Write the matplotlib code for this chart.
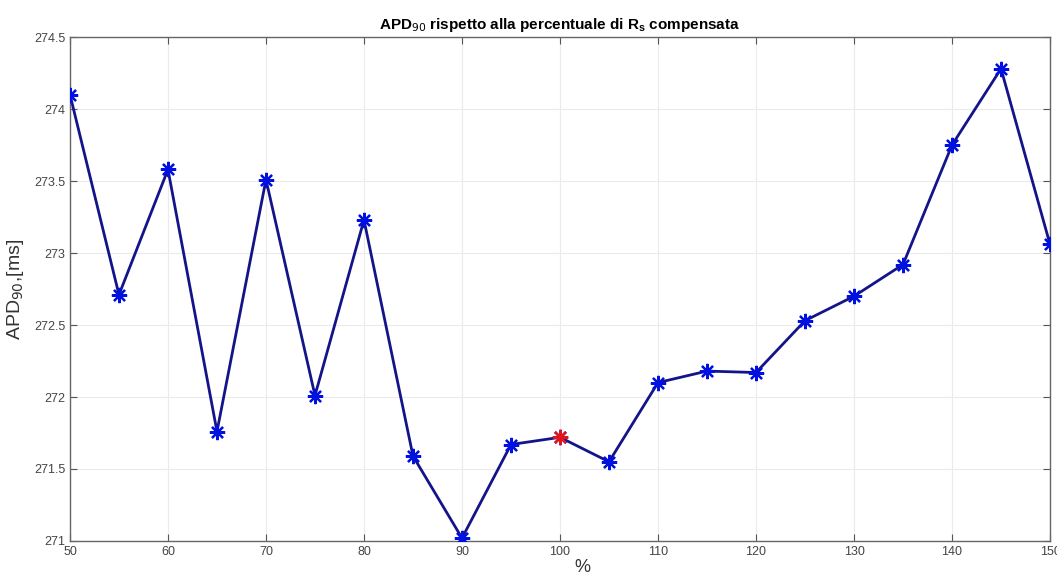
import matplotlib

matplotlib.use("Agg")
import matplotlib.pyplot as plt  # noqa: E402

percent = [50, 55, 60, 65, 70, 75, 80, 85, 90, 95, 100,
           105, 110, 115, 120, 125, 130, 135, 140, 145, 150]
apd90 = [274.10, 272.71, 273.58, 271.76, 273.51, 272.01, 273.23, 271.59,
         271.02, 271.67, 271.72, 271.55, 272.10, 272.18, 272.17, 272.53,
         272.70, 272.92, 273.75, 274.28, 273.06]
highlight = 100

plt.rcParams["font.family"] = ["Liberation Sans", "DejaVu Sans"]

fig = plt.figure(figsize=(10.57, 5.74), dpi=100)
ax = fig.add_axes([0.0662, 0.0575, 0.9272, 0.878])

# MATLAB-style '*' marker: eight-armed asterisk
star = (8, 2, 0)
ax.plot(percent, apd90, color="#14148a", linewidth=2, zorder=2)
ax.plot(percent, apd90, linestyle="none", marker=star, markersize=11,
        markeredgecolor="#0010e0", markeredgewidth=1.6, zorder=3)
idx = percent.index(highlight)
ax.plot([percent[idx]], [apd90[idx]], linestyle="none", marker=star,
        markersize=11, markeredgecolor="#e0151b", markeredgewidth=1.6, zorder=4)

ax.set_xlim(50, 150)
ax.set_ylim(271, 274.5)
ax.set_xticks(range(50, 151, 10))
ax.set_yticks([271, 271.5, 272, 272.5, 273, 273.5, 274, 274.5])
ax.set_yticklabels(["271", "271.5", "272", "272.5", "273", "273.5", "274", "274.5"])
ax.grid(True, color="#ebebeb", linewidth=0.8)
ax.set_axisbelow(True)
ax.tick_params(direction="in", length=5, colors="#555555", labelsize=9,
               top=True, right=True, labelcolor="#444444")
for sp in ax.spines.values():
    sp.set_color("#666666")
    sp.set_linewidth(1)

ax.set_title("APD$_{90}$ rispetto alla percentuale di R$_\\mathregular{s}$ compensata",
             fontsize=11, fontweight="bold", pad=6)
ax.set_xlabel("%", fontsize=13, color="#333333")
ax.xaxis.set_label_coords(0.523, -0.035)
ax.set_ylabel("APD$_{90}$,[ms]", fontsize=14, color="#333333", labelpad=6)

fig.savefig("out.png", dpi=100)
